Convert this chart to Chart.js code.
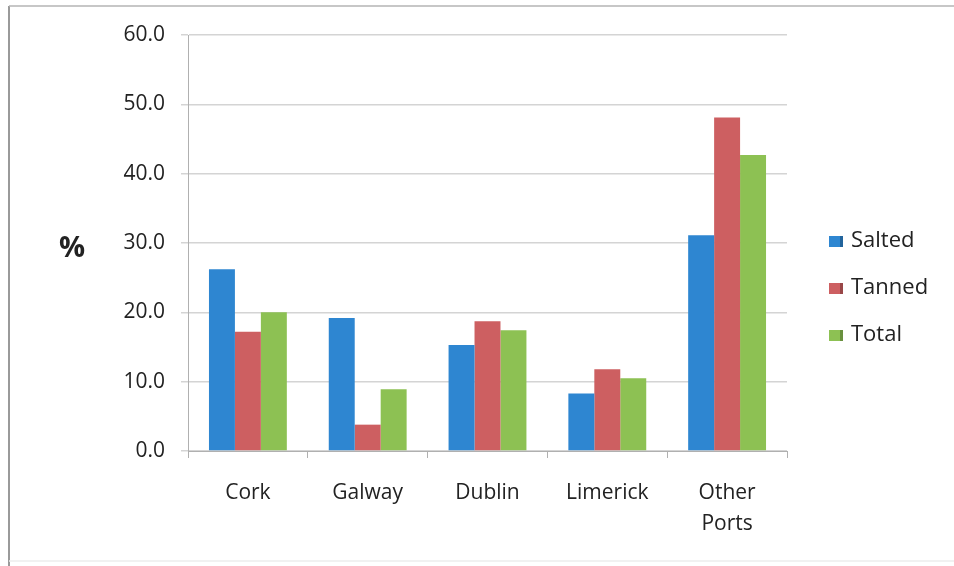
<!DOCTYPE html>
<html>
<head>
<meta charset="utf-8">
<script src="https://cdn.jsdelivr.net/npm/chart.js@4/dist/chart.umd.min.js"></script>
<style>
  body { margin: 0; background: #fff; }
  #wrap { position: relative; width: 954px; height: 566px; }
</style>
</head>
<body>
<div id="wrap"><canvas id="grafico" width="954" height="566"></canvas></div>
<script>
// dados
const portos = ['Cork', 'Galway', 'Dublin', 'Limerick', ['Other', 'Ports']];
const salted = [26.2, 19.2, 15.3, 8.3, 31.1];
const tanned = [17.2, 3.8, 18.7, 11.8, 48.1];
const total = [20.0, 8.9, 17.4, 10.5, 42.7];
const nomesSeries = ['Salted', 'Tanned', 'Total'];
const cores = ['#2E86D1', '#CD5F61', '#8DC153'];

const fonte = '"Open Sans", "DejaVu Sans", sans-serif';

// moldura, titulo "%" e legenda desenhados à mão
const extras = {
    id: 'extras',
    beforeDraw(chart) {
        const c = chart.ctx;
        c.save();
        c.fillStyle = '#fff';
        c.fillRect(0, 0, chart.width, chart.height);
        c.restore();
    },
    afterDraw(chart) {
        const c = chart.ctx;
        c.save();
        // moldura
        c.strokeStyle = '#9a9a9a';
        c.lineWidth = 2;
        c.beginPath();
        c.moveTo(9, 566);
        c.lineTo(9, 6);
        c.stroke();
        c.strokeStyle = '#b5b5b5';
        c.lineWidth = 1.5;
        c.beginPath();
        c.moveTo(9, 6);
        c.lineTo(954, 6);
        c.stroke();
        c.strokeStyle = '#ececec';
        c.beginPath();
        c.moveTo(9, 561);
        c.lineTo(954, 561);
        c.stroke();

        // titulo do eixo
        c.fillStyle = '#222';
        c.font = 'bold 29px ' + fonte;
        c.textAlign = 'center';
        c.textBaseline = 'middle';
        c.fillText('%', 72, 249);

        // legenda
        c.font = '22px ' + fonte;
        c.textAlign = 'left';
        c.textBaseline = 'alphabetic';
        chart.data.datasets.forEach((ds, i) => {
            const base = 247 + i * 47;
            c.fillStyle = ds.backgroundColor;
            c.fillRect(829, base - 11, 14, 11);
            c.fillStyle = 'rgba(0,0,0,0.25)';
            c.fillRect(840, base - 11, 3, 11);
            c.fillStyle = '#222';
            c.fillText(ds.label, 851, base);
        });
        c.restore();
    }
};

const ctx = document.getElementById('grafico').getContext('2d');
const grafico = new Chart(ctx, {
    type: 'bar',
    data: {
        labels: portos,
        datasets: [
            { label: nomesSeries[0], data: salted, backgroundColor: cores[0] },
            { label: nomesSeries[1], data: tanned, backgroundColor: cores[1] },
            { label: nomesSeries[2], data: total, backgroundColor: cores[2] }
        ]
    },
    options: {
        responsive: false,
        animation: false,
        devicePixelRatio: 1,
        datasets: {
            bar: { categoryPercentage: 0.65, barPercentage: 1.0 }
        },
        layout: { padding: { top: 35, right: 167, bottom: 0, left: 0 } },
        plugins: {
            legend: { display: false },
            tooltip: { enabled: false }
        },
        scales: {
            x: {
                afterFit(scale) { scale.height = 115; },
                grid: {
                    drawOnChartArea: false,
                    drawTicks: true,
                    tickLength: 7,
                    color: '#b0b0b0',
                    offset: true
                },
                border: { color: '#b0b0b0', width: 1 },
                ticks: {
                    color: '#222',
                    padding: 20,
                    maxRotation: 0,
                    font: { family: fonte, size: 21, lineHeight: 1.45 }
                }
            },
            y: {
                min: 0,
                max: 60,
                afterFit(scale) { scale.width = 188; },
                grid: {
                    color: '#d4d4d4',
                    lineWidth: 1.5,
                    drawTicks: true,
                    tickLength: 7
                },
                border: { color: '#b0b0b0', width: 1 },
                ticks: {
                    stepSize: 10,
                    color: '#222',
                    padding: 16,
                    font: { family: fonte, size: 21 },
                    callback: v => v.toFixed(1)
                }
            }
        }
    },
    plugins: [extras]
});
</script>
</body>
</html>
